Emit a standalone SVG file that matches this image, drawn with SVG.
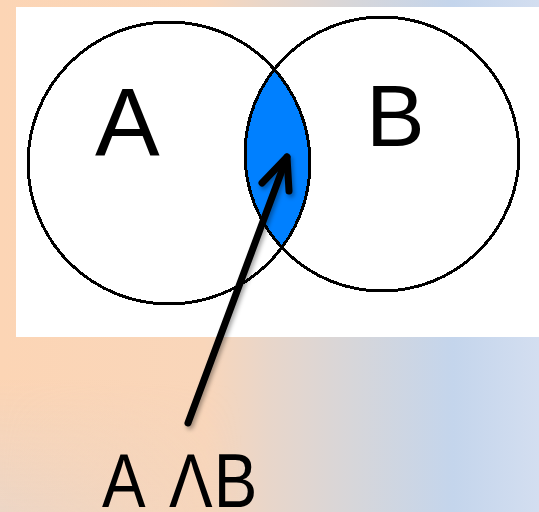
<svg xmlns="http://www.w3.org/2000/svg" width="539" height="512" viewBox="0 0 539 512">
  <defs>
    <linearGradient id="bg" x1="0" y1="0" x2="539" y2="0" gradientUnits="userSpaceOnUse">
      <stop offset="0" stop-color="#FCD5B5"/>
      <stop offset="0.38" stop-color="#F9D6BA"/>
      <stop offset="0.5" stop-color="#E8D6CA"/>
      <stop offset="0.66" stop-color="#D6D6DA"/>
      <stop offset="0.84" stop-color="#C4D5EC"/>
      <stop offset="1" stop-color="#D3DEF0"/>
    </linearGradient>
    <linearGradient id="shade" x1="0" y1="380" x2="0" y2="512" gradientUnits="userSpaceOnUse">
      <stop offset="0" stop-color="#E2D6D0" stop-opacity="0"/>
      <stop offset="1" stop-color="#E2D6D0" stop-opacity="0.6"/>
    </linearGradient>
    <linearGradient id="shadeMask" x1="0" y1="0" x2="539" y2="0" gradientUnits="userSpaceOnUse">
      <stop offset="0" stop-color="#fff"/>
      <stop offset="0.45" stop-color="#000"/>
    </linearGradient>
    <mask id="leftOnly">
      <rect width="539" height="512" fill="url(#shadeMask)"/>
    </mask>
    <filter id="shadow" x="-20%" y="-20%" width="140%" height="140%">
      <feDropShadow dx="2" dy="3" stdDeviation="2" flood-color="#000" flood-opacity="0.35"/>
    </filter>
    <style>
      .ring { fill: none; stroke: #000; stroke-width: 3; shape-rendering: crispEdges; }
      .lens { fill: #0080FF; }
      .lbl { font-family: "Liberation Sans", Arial, sans-serif; fill: #000; }
      .arrow { fill: none; stroke: #000; stroke-width: 7; stroke-linecap: round; stroke-linejoin: round; }
    </style>
  </defs>

  <g id="background">
    <rect width="539" height="512" fill="url(#bg)"/>
    <rect width="539" height="512" fill="url(#shade)" mask="url(#leftOnly)"/>
    <rect x="16" y="7" width="523" height="330" fill="#fff"/>
  </g>

  <g id="intersection">
    <path class="lens" d="M274.3,69.3 A141,141 0 0 1 281.9,247.5 A137,137 0 0 1 274.3,69.3 Z"/>
  </g>

  <g id="circle-a">
    <circle class="ring" cx="169" cy="163" r="141"/>
    <text class="lbl" x="95" y="155" font-size="97">A</text>
  </g>

  <g id="circle-b">
    <circle class="ring" cx="382" cy="154" r="137"/>
    <text class="lbl" x="366" y="146" font-size="88">B</text>
  </g>

  <g id="connectors" filter="url(#shadow)">
    <line class="arrow" x1="188" y1="423" x2="287" y2="157"/>
    <polyline class="arrow" points="262,183 287,157 289,191"/>
  </g>

  <g id="label-and">
    <text class="lbl" font-size="76" transform="translate(102,507) scale(0.86,1)">A <tspan x="78">Λ</tspan><tspan x="130">B</tspan></text>
  </g>
</svg>
